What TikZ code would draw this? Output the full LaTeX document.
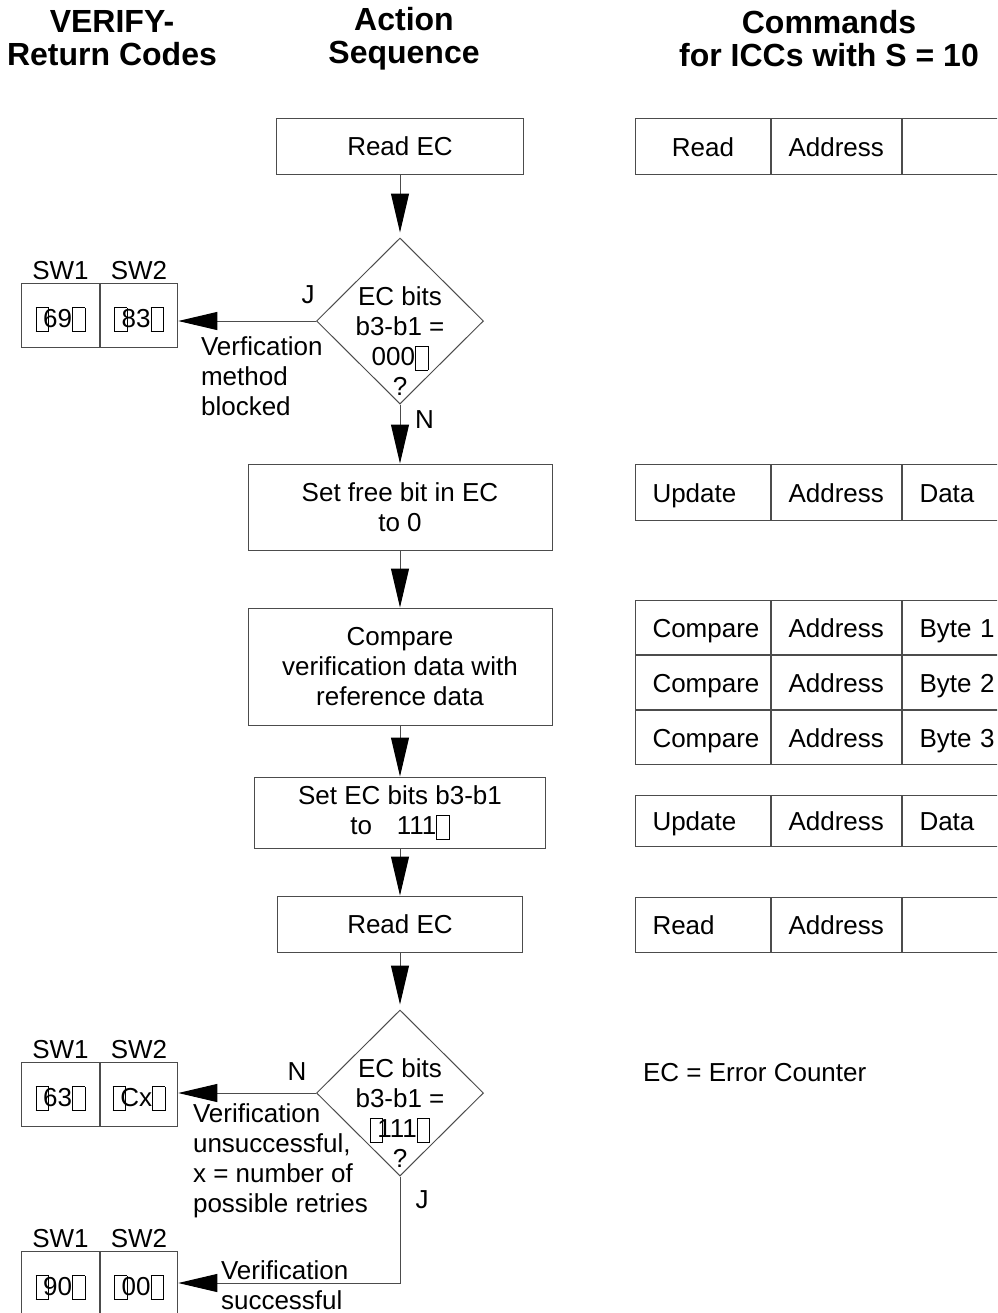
\documentclass[tikz,border=0pt]{standalone}
\usepackage{fontspec}
\setmainfont{Liberation Sans}
\usetikzlibrary{arrows.meta,positioning,shapes.geometric}
\colorlet{linec}{black!70}
% placeholder glyph for the missing quote marks
\newcommand{\qbox}{\raisebox{-0.17em}{\fboxsep0pt\fboxrule0.4pt\fbox{\rule{0pt}{0.89em}\hspace{0.45em}}}}
\newcommand{\qo}{\qbox\kern-0.22em}
\newcommand{\qc}{\qbox}
\tikzset{
  every node/.style={font=\fontsize{13}{15}\selectfont},
  title/.style={align=center, font=\fontsize{16}{16.5}\selectfont\bfseries},
  actbox/.style={draw=linec, line width=0.5pt, align=center, inner sep=0pt},
  decide/.style={diamond, draw=linec, line width=0.5pt, inner sep=0pt, minimum width=83.5pt, minimum height=83pt},
  flow/.style={draw=linec, line width=0.5pt, -{Triangle[width=9pt,length=19.5pt,color=black]}},
  swcell/.style={draw=linec, line width=0.5pt, minimum width=38.75pt, minimum height=32pt, inner sep=0pt,
    text height=1.2em, text depth=0pt},
  cmdcell/.style={draw=linec, line width=0.5pt, inner ysep=0pt, inner xsep=8.5pt, align=left,
    text height=0.95em, text depth=0pt},
}
\begin{document}
\begin{tikzpicture}[x=0.5pt,y=-0.5pt]
\clip (0,0) rectangle (997,1313);
% column titles
\node[title] (tret) at (112,38.5) {VERIFY-\\Return Codes};
\node[title] (tact) at (404,38.5) {Action\\Sequence};
\node[title] (tcmd) at (829,38.5) {Commands\\for ICCs with S = 10};
% action sequence
\node[actbox, minimum width=123.5pt, minimum height=28pt] (rd1) at (400,146) {Read EC};
\node[decide, label={[align=center, yshift=-10pt]center:EC bits\\b3-b1 =\\000\qc\\?}] (dia1) at (400,321) {};
\node[actbox, minimum width=152pt, minimum height=43pt] (free) at (400,507) {Set free bit in EC\\to 0};
\node[actbox, minimum width=152pt, minimum height=58.5pt] (cmp) at (400,666.5) {Compare\\verification data with\\reference data};
\node[actbox, minimum width=145.5pt, minimum height=35.5pt] (setbits) at (400,812.5) {Set EC bits b3-b1\\to\hspace{0.95em}111\qc};
\node[actbox, minimum width=122.5pt, minimum height=28pt] (rd2) at (400,924) {Read EC};
\node[decide, label={[align=center, yshift=-10pt]center:EC bits\\b3-b1 =\\\qo111\qc\\?}] (dia2) at (400,1093) {};
\draw[flow, shorten >=2.5pt] (rd1) -- (dia1);
\draw[flow] (dia1) -- node[right, pos=0.25, xshift=4pt] (n1) {N} (free);
\draw[flow] (free) -- (cmp);
\draw[flow] (cmp) -- (setbits);
\draw[flow] (setbits) -- (rd2);
\draw[flow, shorten >=2.5pt] (rd2) -- (dia2);
% return codes
\node[swcell, label={[inner sep=1pt]above:SW1}] (sw1a) at (60.5,315) {\qo69\qc};
\node[swcell, right=0pt of sw1a, label={[inner sep=1pt]above:SW2}] (sw1b) {\qo83\qc};
\node[swcell, label={[inner sep=1pt]above:SW1}] (sw2a) at (60.5,1094) {\qo63\qc};
\node[swcell, right=0pt of sw2a, label={[inner sep=1pt]above:SW2}] (sw2b) {\qo Cx\qc};
\node[swcell, label={[inner sep=1pt]above:SW1}] (sw3a) at (60.5,1283) {\qo90\qc};
\node[swcell, right=0pt of sw3a, label={[inner sep=1pt]above:SW2}] (sw3b) {\qo00\qc};
\draw[flow] (dia1.west) -- (dia1.west -| sw1b.east);
\draw[flow] (dia2.west) -- (dia2.west -| sw2b.east);
\draw[flow] (dia2.south) |- (sw3b.east);
\node (j1) at (308,295) {J};
\node (n2) at (297,1072) {N};
\node (j2) at (422,1200) {J};
\node[anchor=west, align=left] (blk) at (194,376) {Verfication\\method\\blocked};
\node[anchor=west, align=left] (fail) at (186,1161) {Verification\\unsuccessful,\\x = number of\\possible retries};
\node[anchor=west, align=left] (succ) at (214,1285) {Verification\\successful};
% commands
\node[cmdcell, anchor=north west, text width=50.5pt, align=center, minimum height=28pt] (r1a) at (635,118) {Read};
\node[cmdcell, right=0pt of r1a, text width=48pt, minimum height=28pt] (r1b) {Address};
\node[cmdcell, right=0pt of r1b, text width=50pt, minimum height=28pt] (r1c) {};
\node[cmdcell, anchor=north west, text width=50.5pt, minimum height=28pt] (u1a) at (635,464) {Update};
\node[cmdcell, right=0pt of u1a, text width=48pt, minimum height=28pt] (u1b) {Address};
\node[cmdcell, right=0pt of u1b, text width=50pt, minimum height=28pt] (u1c) {Data};
\node[cmdcell, anchor=north west, text width=50.5pt, minimum height=27pt] (c1a) at (635,600) {Compare};
\node[cmdcell, right=0pt of c1a, text width=48pt, minimum height=27pt] (c1b) {Address};
\node[cmdcell, right=0pt of c1b, text width=50pt, minimum height=27pt] (c1c) {Byte 1};
\node[cmdcell, below=0pt of c1a, text width=50.5pt, minimum height=27pt] (c2a) {Compare};
\node[cmdcell, right=0pt of c2a, text width=48pt, minimum height=27pt] (c2b) {Address};
\node[cmdcell, right=0pt of c2b, text width=50pt, minimum height=27pt] (c2c) {Byte 2};
\node[cmdcell, below=0pt of c2a, text width=50.5pt, minimum height=27pt] (c3a) {Compare};
\node[cmdcell, right=0pt of c3a, text width=48pt, minimum height=27pt] (c3b) {Address};
\node[cmdcell, right=0pt of c3b, text width=50pt, minimum height=27pt] (c3c) {Byte 3};
\node[cmdcell, anchor=north west, text width=50.5pt, minimum height=25.5pt] (u2a) at (635,795) {Update};
\node[cmdcell, right=0pt of u2a, text width=48pt, minimum height=25.5pt] (u2b) {Address};
\node[cmdcell, right=0pt of u2b, text width=50pt, minimum height=25.5pt] (u2c) {Data};
\node[cmdcell, anchor=north west, text width=50.5pt, minimum height=27.5pt] (r2a) at (635,897) {Read};
\node[cmdcell, right=0pt of r2a, text width=48pt, minimum height=27.5pt] (r2b) {Address};
\node[cmdcell, right=0pt of r2b, text width=50pt, minimum height=27.5pt] (r2c) {};
\node[anchor=west] (legend) at (636,1073) {EC = Error Counter};
\end{tikzpicture}
\end{document}
